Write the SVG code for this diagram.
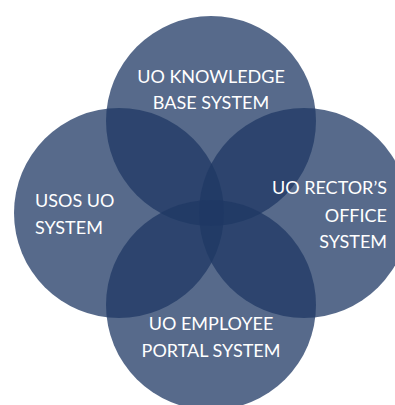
<svg xmlns="http://www.w3.org/2000/svg" width="395" height="405" viewBox="0 0 395 405">
<style>
.c{fill:#1f3864;fill-opacity:0.75}
.t{font-family:Lato,"Liberation Sans",sans-serif;font-size:18px;fill:#ffffff}
</style>
<rect width="395" height="405" fill="#ffffff"/>
<g id="kb"><circle class="c" cx="211" cy="121" r="105"/></g>
<g id="usos"><circle class="c" cx="119" cy="213" r="105"/></g>
<g id="rector"><circle class="c" cx="304" cy="213" r="105"/></g>
<g id="portal"><circle class="c" cx="211" cy="305" r="105"/></g>
<g id="labels">
<text class="t" x="211" y="83" text-anchor="middle">UO KNOWLEDGE</text>
<text class="t" x="211" y="109" text-anchor="middle">BASE SYSTEM</text>
<text class="t" x="35" y="207">USOS UO</text>
<text class="t" x="35" y="234">SYSTEM</text>
<text class="t" x="387" y="194" text-anchor="end">UO RECTOR’S</text>
<text class="t" x="387" y="222" text-anchor="end">OFFICE</text>
<text class="t" x="387" y="248" text-anchor="end">SYSTEM</text>
<text class="t" x="211" y="330" text-anchor="middle">UO EMPLOYEE</text>
<text class="t" x="211" y="357" text-anchor="middle">PORTAL SYSTEM</text>
</g>
<g id="connectors"/>
</svg>
